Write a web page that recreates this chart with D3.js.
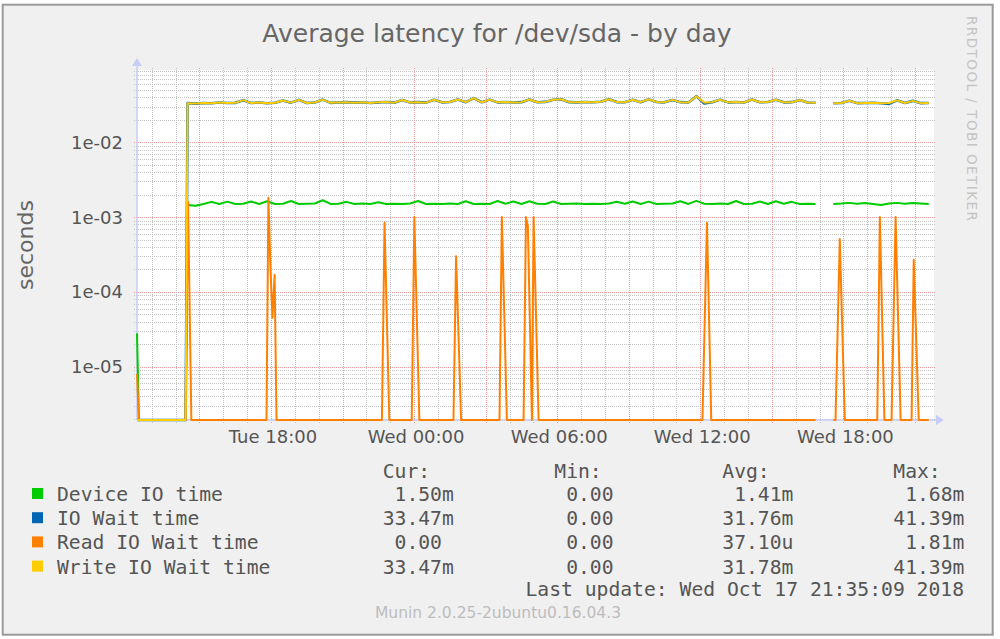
<!DOCTYPE html>
<html>
<head>
<meta charset="utf-8">
<script src="https://cdn.jsdelivr.net/npm/d3@7"></script>
<style>
  html, body { margin: 0; background: #fff; }
  svg { display: block; }
</style>
</head>
<body>
<div id="chart"></div>
<script>
const width = 1000, height = 639;
const plot = {left: 137, right: 934, top: 70, bottom: 420};

// times are hours since Tue 16 Oct 2018 00:00
const timeStart = 12.38, timeEnd = 45.80;
const yMin = 1.94e-6, yMax = 0.0926;

// regular samples, every 20 minutes, values in ms
const sampleStep = 1 / 3;
const part1Start = 14.5;   // Tue 14:30 .. Wed 16:50
const part2Start = 41.58;  // Wed 17:35 .. Wed 21:35

// before the first real sample: [hour, ms]
const leadDevice = [[12.38, 0.028], [12.46, 0], [14.42, 0]];
const leadWait = [[12.38, 0], [12.46, 0], [14.42, 0]];

const deviceIo1 = [
  1.45, 1.42, 1.50, 1.60, 1.50, 1.61, 1.50, 1.51, 1.62, 1.50,
  1.63, 1.50, 1.51, 1.64, 1.50, 1.51, 1.52, 1.68, 1.50, 1.51,
  1.60, 1.50, 1.52, 1.50, 1.58, 1.50, 1.51, 1.50, 1.52, 1.64,
  1.50, 1.51, 1.50, 1.52, 1.50, 1.63, 1.50, 1.51, 1.50, 1.64,
  1.51, 1.62, 1.50, 1.63, 1.51, 1.50, 1.62, 1.50, 1.51, 1.52,
  1.50, 1.51, 1.50, 1.52, 1.60, 1.51, 1.62, 1.50, 1.61, 1.50,
  1.51, 1.52, 1.63, 1.50, 1.65, 1.51, 1.50, 1.52, 1.50, 1.64,
  1.50, 1.51, 1.62, 1.50, 1.63, 1.51, 1.60, 1.50, 1.51, 1.50
];
const deviceIo2 = [1.50, 1.52, 1.55, 1.51, 1.54, 1.50, 1.45, 1.52, 1.55, 1.51, 1.54, 1.52, 1.50];

const writeWait1 = [
  33.4, 32.9, 33.6, 33.2, 34.0, 33.5, 33.7, 36.6, 33.6, 34.0,
  33.3, 33.8, 36.2, 33.9, 36.9, 33.5, 34.1, 37.2, 33.7, 34.1,
  34.4, 33.9, 34.3, 33.6, 34.2, 34.6, 33.9, 36.8, 34.0, 34.4,
  33.9, 37.0, 34.2, 34.6, 37.4, 34.4, 38.9, 34.3, 37.2, 34.2,
  34.5, 34.1, 34.4, 37.3, 34.3, 34.7, 37.0, 37.6, 34.4, 34.2,
  34.6, 34.3, 34.8, 37.7, 34.5, 34.3, 37.1, 34.4, 37.5, 34.6,
  34.2, 36.9, 34.4, 34.1, 41.39, 34.0, 34.4, 37.2, 34.2, 34.5,
  34.1, 37.3, 34.3, 34.6, 37.0, 34.2, 34.4, 36.7, 34.0, 33.8
];
const writeWait2 = [33.2, 33.5, 36.0, 33.4, 33.6, 33.8, 33.3, 33.5, 36.4, 33.6, 35.8, 33.4, 33.47];

const ioWait1 = [
  33.4, 32.9, 33.6, 33.2, 34.0, 33.5, 33.7, 36.6, 33.6, 34.0,
  33.3, 33.8, 36.2, 33.9, 36.9, 33.5, 34.1, 37.2, 33.7, 34.1,
  34.4, 33.9, 34.3, 33.6, 34.2, 34.6, 33.9, 36.8, 34.0, 34.4,
  33.9, 37.0, 34.2, 34.6, 37.4, 34.4, 38.9, 34.3, 37.2, 34.2,
  34.5, 34.1, 34.4, 37.3, 34.3, 34.7, 37.0, 37.6, 34.4, 34.2,
  34.6, 34.3, 34.8, 37.7, 34.5, 34.3, 37.1, 34.4, 37.5, 34.6,
  34.2, 36.9, 34.4, 34.1, 41.39, 33.0, 34.4, 37.2, 34.2, 34.5,
  34.1, 37.3, 34.3, 34.6, 37.0, 34.2, 34.4, 36.7, 34.0, 33.8
];
const ioWait2 = [33.2, 33.5, 36.0, 33.4, 33.6, 33.8, 33.3, 32.6, 36.4, 33.6, 35.8, 33.4, 33.47];

// read wait is zero except for short spikes: [hour, ms], null = no data
const readWait = [
  [12.38, 0.008], [12.46, 0], [14.41, 0], [14.52, 1.6], [14.66, 0],
  [17.81, 0], [17.89, 1.81], [17.98, 0.19], [18.06, 0.045], [18.15, 0.17], [18.23, 0],
  [22.65, 0], [22.76, 0.84], [22.96, 0],
  [23.90, 0], [24.01, 1.0], [24.22, 0],
  [25.65, 0], [25.76, 0.30], [25.97, 0],
  [27.58, 0], [27.68, 1.0], [27.89, 0],
  [28.59, 0], [28.69, 1.0], [28.77, 0.76], [28.94, 0], [29.01, 1.0], [29.22, 0],
  [36.09, 0], [36.28, 0.84], [36.46, 0],
  [40.83, 0], null,
  [41.58, 0], [41.67, 0], [41.85, 0.51], [42.06, 0],
  [43.42, 0], [43.53, 1.0], [43.72, 0],
  [44.02, 0], [44.19, 1.0], [44.40, 0],
  [44.86, 0], [44.95, 0.27], [45.16, 0],
  [45.58, 0]
];

const seriesNames = ["Device IO time", "IO Wait time", "Read IO Wait time", "Write IO Wait time"];
const seriesColors = ["#00cc00", "#0066b3", "#ff8000", "#ffcc00"];
const curValues = ["1.50m", "33.47m", "0.00", "33.47m"];
const minValues = ["0.00", "0.00", "0.00", "0.00"];
const avgValues = ["1.41m", "31.76m", "37.10u", "31.78m"];
const maxValues = ["1.68m", "41.39m", "1.81m", "41.39m"];
const columnHeads = ["Cur:", "Min:", "Avg:", "Max:"];
const columnX = [382.7, 554.3, 722.3, 893.3];

const titleText = "Average latency for /dev/sda - by day";
const lastUpdate = "Last update: Wed Oct 17 21:35:09 2018";
const versionText = "Munin 2.0.25-2ubuntu0.16.04.3";

function hourToDate(h) {
  return new Date(Date.UTC(2018, 9, 16) + h * 3600e3);
}

function buildSeries(lead, part1, part2) {
  return lead
    .concat(part1.map((v, i) => [part1Start + i * sampleStep, v]))
    .concat([null])
    .concat(part2.map((v, i) => [part2Start + i * sampleStep, v]));
}

const svg = d3.select("#chart").append("svg")
  .attr("width", width)
  .attr("height", height);

svg.append("rect")
  .attr("x", 2.7).attr("y", 4.7)
  .attr("width", 990).attr("height", 630)
  .attr("fill", "#f0f0f0")
  .attr("stroke", "#9a9a9a")
  .attr("stroke-width", 2);

svg.append("rect")
  .attr("x", plot.left).attr("y", plot.top)
  .attr("width", plot.right - plot.left)
  .attr("height", plot.bottom - plot.top)
  .attr("fill", "#fff");

const x = d3.scaleUtc()
  .domain([hourToDate(timeStart), hourToDate(timeEnd)])
  .range([plot.left, plot.right]);

const y = d3.scaleLog()
  .domain([yMin, yMax])
  .range([plot.bottom, plot.top]);

// grid
const grid = svg.append("g");
const isDecade = v => Math.abs(Math.log10(v) - Math.round(Math.log10(v))) < 1e-6;
const yTicks = y.ticks().filter(v => v >= yMin && v <= yMax);
const xTicks = x.ticks(d3.utcHour.every(1));
const minorColor = "#c4c4c4", majorColor = "#f29a9a";

grid.selectAll(".hgrid")
  .data(yTicks.filter(v => !isDecade(v)).concat(yTicks.filter(isDecade)))
  .enter().append("line")
  .attr("x1", plot.left - 3).attr("x2", plot.right + 2)
  .attr("y1", d => Math.round(y(d)) + 0.5).attr("y2", d => Math.round(y(d)) + 0.5)
  .attr("stroke", d => isDecade(d) ? majorColor : minorColor)
  .attr("stroke-dasharray", "1,1");

grid.selectAll(".vgrid")
  .data(xTicks.filter(d => d.getUTCHours() % 3 !== 0).concat(xTicks.filter(d => d.getUTCHours() % 3 === 0)))
  .enter().append("line")
  .attr("x1", d => Math.round(x(d)) + 0.5).attr("x2", d => Math.round(x(d)) + 0.5)
  .attr("y1", plot.top - 2).attr("y2", plot.bottom + 4)
  .attr("stroke", d => d.getUTCHours() % 3 === 0 ? majorColor : minorColor)
  .attr("stroke-dasharray", "1,1");

// axis lines with arrows
const axisColor = "#c6cdf7";
svg.append("line")
  .attr("x1", plot.left).attr("x2", plot.left)
  .attr("y1", plot.bottom).attr("y2", plot.top - 8)
  .attr("stroke", axisColor).attr("stroke-width", 1.5);
svg.append("line")
  .attr("x1", plot.left).attr("x2", plot.right + 6)
  .attr("y1", plot.bottom).attr("y2", plot.bottom)
  .attr("stroke", axisColor).attr("stroke-width", 1.5);
svg.append("path")
  .attr("d", d3.line()([[plot.left - 5, plot.top - 4], [plot.left, plot.top - 12], [plot.left + 5, plot.top - 4]]) + "Z")
  .attr("fill", axisColor);
svg.append("path")
  .attr("d", d3.line()([[plot.right + 2, plot.bottom - 5], [plot.right + 10, plot.bottom], [plot.right + 2, plot.bottom + 5]]) + "Z")
  .attr("fill", axisColor);

// data lines
const line = d3.line()
  .defined(d => d != null)
  .x(d => x(hourToDate(d[0])))
  .y(d => y(Math.max(d[1] / 1000, yMin)));

const seriesData = [
  buildSeries(leadDevice, deviceIo1, deviceIo2),
  buildSeries(leadWait, ioWait1, ioWait2),
  readWait,
  buildSeries(leadWait, writeWait1, writeWait2)
];
const lineWidths = [2, 2.6, 2, 2];

svg.append("g")
  .selectAll("path")
  .data(seriesData)
  .enter().append("path")
  .attr("d", line)
  .attr("fill", "none")
  .attr("stroke", (d, i) => seriesColors[i])
  .attr("stroke-width", (d, i) => lineWidths[i])
  .attr("stroke-linejoin", "round");

// tick labels
const labelFont = "'DejaVu Sans', sans-serif";
svg.append("g")
  .selectAll("text")
  .data(yTicks.filter(isDecade))
  .enter().append("text")
  .attr("x", 123)
  .attr("y", d => y(d))
  .attr("dy", "0.36em")
  .attr("text-anchor", "end")
  .attr("font-family", labelFont)
  .attr("font-size", 18)
  .attr("fill", "#555")
  .text(d => "1e-0" + Math.round(-Math.log10(d)));

svg.append("g")
  .selectAll("text")
  .data(xTicks.filter(d => d.getUTCHours() % 6 === 0))
  .enter().append("text")
  .attr("x", d => x(d) + 2)
  .attr("y", 443)
  .attr("text-anchor", "middle")
  .attr("font-family", labelFont)
  .attr("font-size", 18)
  .attr("fill", "#555")
  .text(d3.utcFormat("%a %H:%M"));

// title, axis label, watermark
svg.append("text")
  .attr("x", 497).attr("y", 42)
  .attr("text-anchor", "middle")
  .attr("font-family", labelFont)
  .attr("font-size", 25)
  .attr("fill", "#666")
  .text(titleText);

svg.append("text")
  .attr("transform", "translate(33,245) rotate(-90)")
  .attr("text-anchor", "middle")
  .attr("font-family", labelFont)
  .attr("font-size", 22)
  .attr("fill", "#666")
  .text("seconds");

svg.append("text")
  .attr("transform", "translate(967,16) rotate(90)")
  .attr("font-family", labelFont)
  .attr("font-size", 13.5)
  .attr("textLength", 205)
  .attr("fill", "#c4c4c4")
  .text("RRDTOOL / TOBI OETIKER");

// legend
const monoFont = "'DejaVu Sans Mono', monospace";
const legend = svg.append("g")
  .attr("font-family", monoFont)
  .attr("font-size", 19.7)
  .attr("fill", "#555")
  .style("white-space", "pre");

function fmtValue(s) {
  const m = s.match(/^([\d.]+)(\D?)$/);
  return m[1].padStart(5, " ") + (m[2] || " ");
}

legend.selectAll(".head")
  .data(columnHeads)
  .enter().append("text")
  .attr("x", (d, i) => columnX[i])
  .attr("y", 478)
  .text(d => d);

const rows = legend.selectAll(".row")
  .data(seriesNames)
  .enter().append("g")
  .attr("transform", (d, i) => "translate(0," + (501 + i * 24.2) + ")");

rows.append("rect")
  .attr("x", 32).attr("y", -13)
  .attr("width", 11).attr("height", 11)
  .attr("fill", (d, i) => seriesColors[i]);

rows.append("text")
  .attr("x", 57)
  .text(d => d);

[curValues, minValues, avgValues, maxValues].forEach((col, c) => {
  rows.append("text")
    .attr("x", columnX[c])
    .attr("xml:space", "preserve")
    .text((d, i) => fmtValue(col[i]));
});

legend.append("text")
  .attr("x", 964).attr("y", 596)
  .attr("text-anchor", "end")
  .text(lastUpdate);

svg.append("text")
  .attr("x", 498).attr("y", 618)
  .attr("text-anchor", "middle")
  .attr("font-family", labelFont)
  .attr("font-size", 15.5)
  .attr("fill", "#bdbdbd")
  .text(versionText);
</script>
</body>
</html>
